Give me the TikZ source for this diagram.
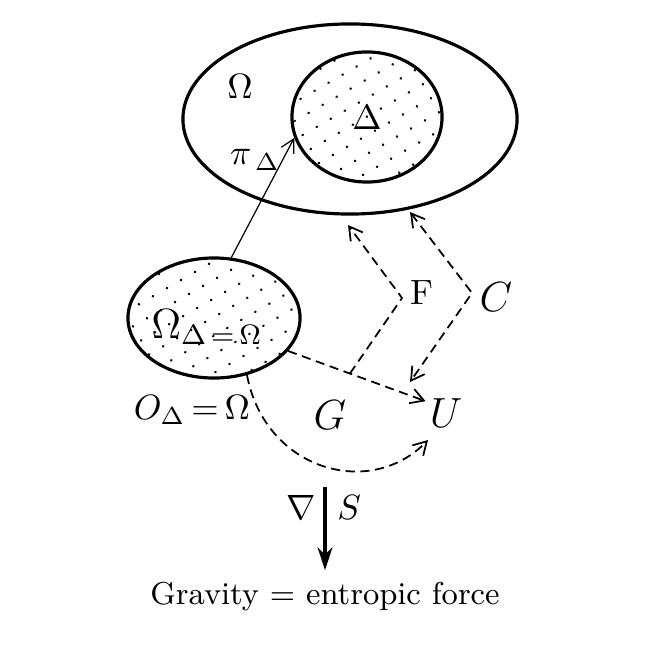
\documentclass[tikz,border=0pt]{standalone}
\usepackage{amsmath}
\usetikzlibrary{arrows.meta,positioning,calc,shapes.geometric,patterns.meta}
\tikzset{
    setBase/.style={
        ellipse,
        draw,
        line width=0.9pt,
        inner sep=0pt
    },
    % Regions
    setDotted/.style={setBase, pattern={Dots[distance=4.6pt, radius=0.4pt, angle=30]}},
    setLabel/.style={inner sep=1pt},
    bigLabel/.style={inner sep=1pt, font=\large},
    % Arrows
    mapArrow/.style={-{Straight Barb[length=1.3mm, width=1.4mm]}, line width=0.35pt},
    dashArrow/.style={-{Straight Barb[length=1.3mm, width=1.5mm]}, line width=0.5pt, dash pattern=on 2.6pt off 1.6pt},
    gradArrow/.style={-{Stealth[length=2.3mm, width=1.5mm]}, line width=1pt}
}
\begin{document}
\begin{tikzpicture}[x=0.01cm, y=-0.01cm]
\useasboundingbox[fill=white] (0,0) rectangle (649,646);

\node[setBase, minimum width=3.34cm, minimum height=1.9cm] (omega) at (350,119) {};
\node[setDotted, minimum width=1.5cm, minimum height=1.3cm] (delta) at (367,117) {$\Delta$};
\node[setLabel] (omegaLab) at (240,86) {$\Omega$};
\node[setLabel] (piLab) at (255,160) {$\pi_{\,\Delta}$};

\node[setDotted, minimum width=1.72cm, minimum height=1.2cm] (sub) at (214,318) {};
\node[bigLabel] (subLab) at (207,327) {$\Omega_{\Delta\,=\,\Omega}$};
\node[setLabel] (oLab) at (192,410) {$O_{\Delta}\,{=}\,\Omega$};

\node[bigLabel] (G) at (330,415) {$G$};
\node[bigLabel] (U) at (446,413) {$U$};
\node[bigLabel] (C) at (496,297) {$C$};
\node[setLabel] (F) at (422,293) {F};
\node (gravity) at (325,597) {\small Gravity $=$ entropic force};

\coordinate (fBend) at (402,298);
\coordinate (fEnd) at (348,225);
\coordinate (cTop) at (410,212);
\coordinate (cBend) at (472,293);
\coordinate (cBot) at (410,382);
\coordinate (curveEnd) at (428,440);
\coordinate (gradTop) at (325,487);

\draw[mapArrow] (sub.74) -- (delta.196);
\draw[dashArrow] (sub.336) -- (U.150) coordinate[pos=0.45] (fStart);
\draw[dashArrow] (fStart) -- (fBend) -- (fEnd);
\draw[dashArrow, {Straight Barb[length=1.3mm, width=1.5mm]}-{Straight Barb[length=1.3mm, width=1.5mm]}] (cTop) -- (cBend) -- (cBot);
\draw[dashArrow] (sub.300) .. controls (265,470) and (370,500) .. (curveEnd);
\draw[gradArrow] (gradTop) -- (gravity.north)
    node[pos=0.25, left, inner sep=2pt] {$\nabla$} node[pos=0.25, right, inner sep=3pt] {$S$};
\end{tikzpicture}
\end{document}
